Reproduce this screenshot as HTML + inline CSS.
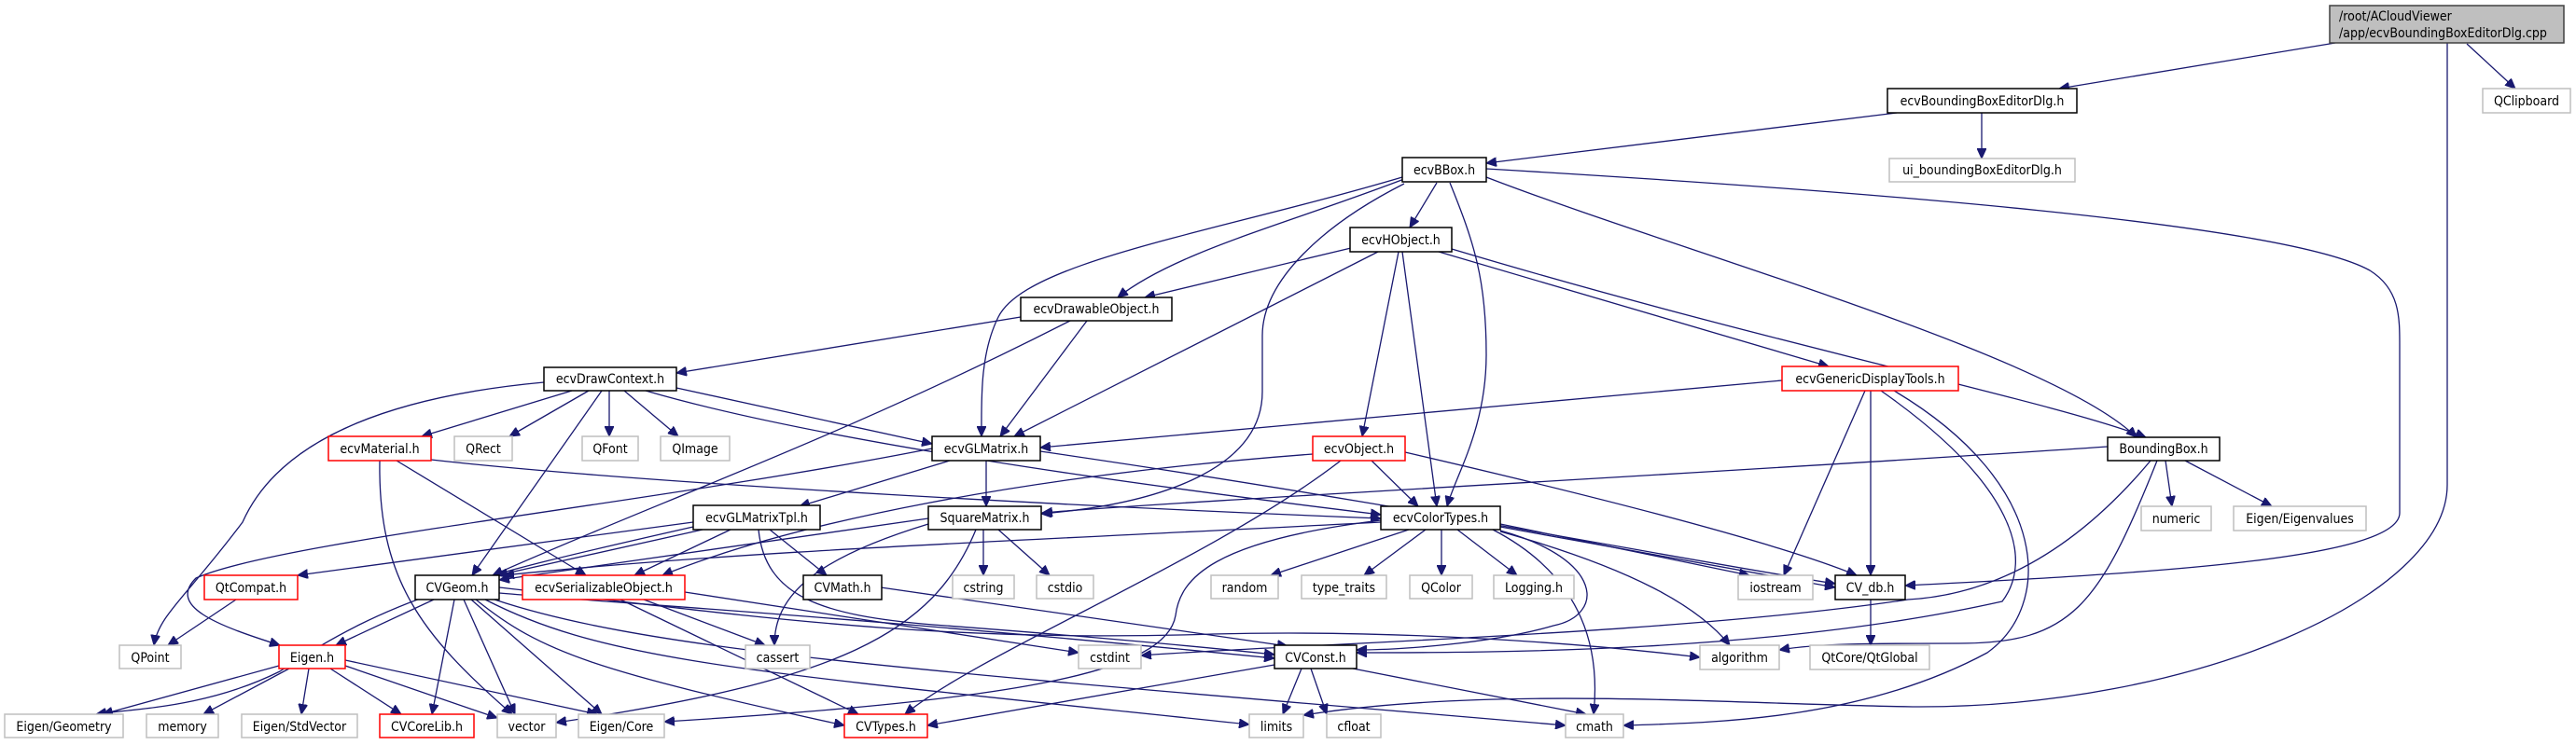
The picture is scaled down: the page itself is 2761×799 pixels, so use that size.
<!DOCTYPE html>
<html><head><meta charset="utf-8"><style>
html,body{margin:0;padding:0;background:#fff;}
svg{display:block;}
text{font-family:"DejaVu Sans Condensed","DejaVu Sans","Liberation Sans",sans-serif;font-size:14px;fill:#000;}
.e{fill:none;stroke:#191970;stroke-width:1.3;marker-end:url(#a);}
.b{fill:#fff;stroke:#000;stroke-width:1.5;}
.g{fill:#fff;stroke:#bfbfbf;stroke-width:1.5;}
.r{fill:#fff;stroke:#ff0000;stroke-width:1.5;}
</style></head><body>
<svg width="2761" height="799" viewBox="0 0 2761 799" xmlns="http://www.w3.org/2000/svg">
<defs><marker id="a" markerUnits="userSpaceOnUse" markerWidth="12" markerHeight="10" refX="11" refY="5" orient="auto"><path d="M0,0 L11,5 L0,10 Z" fill="#191970" stroke="#191970"/></marker></defs>
<g>
<path class="e" d="M2503,46 L2207,95"/>
<path class="e" d="M2644,47 L2696,95"/>
<path class="e" d="M2623,46 L2623,520 C2623,640 2350,760 2050,758 C1850,755 1600,735 1397,767"/>
<path class="e" d="M2033,121 L1593,175"/>
<path class="e" d="M2124,121 L2124,170"/>
<path class="e" d="M1540,196 L1511,244"/>
<path class="e" d="M1505,192 C1380,240 1260,270 1198,319"/>
<path class="e" d="M1503,190 C1300,250 1100,280 1070,340 C1050,380 1052,430 1052,468"/>
<path class="e" d="M1505,197 C1420,240 1353,300 1353,360 L1353,420 C1353,500 1250,540 1116,551"/>
<path class="e" d="M1554,196 C1580,260 1593,300 1593,380 C1593,460 1560,510 1551,543"/>
<path class="e" d="M1593,190 C1800,270 2200,380 2290,469"/>
<path class="e" d="M1593,181 C2000,205 2450,240 2540,290 C2572,310 2572,340 2572,370 L2572,550 C2572,600 2300,615 2042,628"/>
<path class="e" d="M1448,266 L1227,319"/>
<path class="e" d="M1477,270 L1087,468"/>
<path class="e" d="M1499,270 L1460,468"/>
<path class="e" d="M1503,270 L1540,543"/>
<path class="e" d="M1542,270 L1960,393"/>
<path class="e" d="M1556,267 C1900,370 2200,430 2300,469"/>
<path class="e" d="M1094,340 L725,400"/>
<path class="e" d="M1165,344 L1072,468"/>
<path class="e" d="M1147,344 C900,470 700,540 528,617"/>
<path class="e" d="M583,410 C420,425 300,470 260,560 C200,640 170,660 165,692"/>
<path class="e" d="M613,419 L452,468"/>
<path class="e" d="M631,419 L546,468"/>
<path class="e" d="M653,419 L653,468"/>
<path class="e" d="M669,419 L727,468"/>
<path class="e" d="M645,419 L506,617"/>
<path class="e" d="M725,416 L999,476"/>
<path class="e" d="M692,419 C900,480 1300,530 1480,552"/>
<path class="e" d="M1910,408 L1115,480"/>
<path class="e" d="M1999,419 L1912,617"/>
<path class="e" d="M2005,419 L2005,617"/>
<path class="e" d="M2016,419 C2160,520 2180,600 2146,645 C1900,700 1600,700 1454,700"/>
<path class="e" d="M2030,419 C2200,520 2200,650 2130,700 C2000,770 1850,775 1740,778"/>
<path class="e" d="M2305,494 C2200,620 2100,640 2045,643 C1800,680 1400,690 1223,703"/>
<path class="e" d="M2312,494 C2250,650 2220,690 2100,690 C2000,690 1950,690 1907,697"/>
<path class="e" d="M2321,494 L2328,543"/>
<path class="e" d="M2342,494 L2435,543"/>
<path class="e" d="M2259,479 C1800,510 1300,535 1117,550"/>
<path class="e" d="M462,493 C700,520 1200,545 1480,556"/>
<path class="e" d="M425,494 L628,617"/>
<path class="e" d="M407,494 C405,620 450,680 549,766"/>
<path class="e" d="M1018,494 L857,543"/>
<path class="e" d="M1057,494 L1057,543"/>
<path class="e" d="M1115,484 C1500,540 1800,600 1967,626"/>
<path class="e" d="M999,481 C700,540 300,580 210,620 C180,650 230,670 300,692"/>
<path class="e" d="M1470,494 L1520,543"/>
<path class="e" d="M1506,485 C1700,530 1900,580 1990,617"/>
<path class="e" d="M1437,494 C1300,600 1050,700 970,766"/>
<path class="e" d="M1407,487 C1100,510 850,560 710,617"/>
<path class="e" d="M743,560 L319,617"/>
<path class="e" d="M753,568 L533,617"/>
<path class="e" d="M783,568 L680,617"/>
<path class="e" d="M825,568 L886,617"/>
<path class="e" d="M743,565 C500,620 420,640 300,720 C220,760 140,760 103,766"/>
<path class="e" d="M813,568 C820,640 880,660 1000,670 C1200,685 1300,695 1366,702"/>
<path class="e" d="M995,556 L535,622"/>
<path class="e" d="M1054,568 L1054,617"/>
<path class="e" d="M1070,568 L1125,617"/>
<path class="e" d="M995,562 C870,600 830,640 830,692"/>
<path class="e" d="M1046,568 C1000,680 900,730 596,775"/>
<path class="e" d="M1510,568 L1362,617"/>
<path class="e" d="M1528,568 L1462,617"/>
<path class="e" d="M1545,568 L1545,617"/>
<path class="e" d="M1562,568 L1626,617"/>
<path class="e" d="M1608,562 L1875,617"/>
<path class="e" d="M1608,565 L1967,630"/>
<path class="e" d="M1608,570 C1750,610 1820,650 1854,692"/>
<path class="e" d="M1600,568 C1700,620 1715,700 1708,766"/>
<path class="e" d="M1608,569 C1720,600 1720,660 1665,671 C1600,690 1500,697 1454,697"/>
<path class="e" d="M1480,558 C1300,580 1265,620 1260,660 C1250,720 1100,750 712,774"/>
<path class="e" d="M1480,560 C1100,580 800,590 540,617"/>
<path class="e" d="M465,643 L360,692"/>
<path class="e" d="M487,643 L463,766"/>
<path class="e" d="M497,643 L552,766"/>
<path class="e" d="M505,643 L645,766"/>
<path class="e" d="M510,643 C580,700 640,720 905,778"/>
<path class="e" d="M520,643 C650,710 800,720 1339,777"/>
<path class="e" d="M530,643 C700,700 1000,720 1678,778"/>
<path class="e" d="M535,636 C700,650 900,660 1366,706"/>
<path class="e" d="M535,630 C800,660 1000,690 1300,680 C1500,675 1700,690 1822,705"/>
<path class="e" d="M690,643 L820,692"/>
<path class="e" d="M665,643 L920,766"/>
<path class="e" d="M734,635 L1156,700"/>
<path class="e" d="M944,630 L1380,693"/>
<path class="e" d="M253,643 L180,692"/>
<path class="e" d="M299,714 L110,766"/>
<path class="e" d="M310,717 L218,766"/>
<path class="e" d="M331,717 L323,766"/>
<path class="e" d="M354,717 L430,766"/>
<path class="e" d="M370,714 L533,770"/>
<path class="e" d="M370,708 L640,766"/>
<path class="e" d="M1366,713 L994,778"/>
<path class="e" d="M1395,717 L1375,766"/>
<path class="e" d="M1405,717 L1422,766"/>
<path class="e" d="M1450,717 L1700,766"/>
<path class="e" d="M2005,643 L2005,692"/>
</g>
<g>
<rect x="2497" y="6" width="251" height="40" fill="#bfbfbf" stroke="#404040" stroke-width="1.5"/>
<text x="2507" y="22">/root/ACloudViewer</text>
<text x="2507" y="40">/app/ecvBoundingBoxEditorDlg.cpp</text>

<rect class="b" x="2023" y="95" width="203" height="26"/><text x="2124.5" y="113" text-anchor="middle">ecvBoundingBoxEditorDlg.h</text>
<rect class="g" x="2661" y="95" width="94" height="26"/><text x="2708" y="113" text-anchor="middle">QClipboard</text>
<rect class="g" x="2025" y="170" width="199" height="25"/><text x="2124.5" y="187" text-anchor="middle">ui_boundingBoxEditorDlg.h</text>
<rect class="b" x="1503" y="169" width="90" height="26"/><text x="1548" y="187" text-anchor="middle">ecvBBox.h</text>
<rect class="b" x="1447" y="244" width="109" height="26"/><text x="1501.5" y="262" text-anchor="middle">ecvHObject.h</text>
<rect class="b" x="1094" y="319" width="162" height="25"/><text x="1175" y="336" text-anchor="middle">ecvDrawableObject.h</text>
<rect class="b" x="583" y="394" width="142" height="25"/><text x="654" y="411" text-anchor="middle">ecvDrawContext.h</text>
<rect class="r" x="1910" y="393" width="189" height="26"/><text x="2004.5" y="411" text-anchor="middle">ecvGenericDisplayTools.h</text>

<rect class="r" x="352" y="468" width="110" height="26"/><text x="407" y="486" text-anchor="middle">ecvMaterial.h</text>
<rect class="g" x="487" y="468" width="62" height="26"/><text x="518" y="486" text-anchor="middle">QRect</text>
<rect class="g" x="624" y="468" width="60" height="26"/><text x="654" y="486" text-anchor="middle">QFont</text>
<rect class="g" x="708" y="468" width="74" height="26"/><text x="745" y="486" text-anchor="middle">QImage</text>
<rect class="b" x="999" y="468" width="116" height="26"/><text x="1057" y="486" text-anchor="middle">ecvGLMatrix.h</text>
<rect class="r" x="1407" y="468" width="99" height="26"/><text x="1456.5" y="486" text-anchor="middle">ecvObject.h</text>
<rect class="b" x="2259" y="469" width="120" height="25"/><text x="2319" y="486" text-anchor="middle">BoundingBox.h</text>

<rect class="g" x="2295" y="543" width="75" height="26"/><text x="2332.5" y="561" text-anchor="middle">numeric</text>
<rect class="g" x="2394" y="543" width="142" height="26"/><text x="2465" y="561" text-anchor="middle">Eigen/Eigenvalues</text>
<rect class="b" x="743" y="542" width="136" height="26"/><text x="811" y="560" text-anchor="middle">ecvGLMatrixTpl.h</text>
<rect class="b" x="995" y="543" width="121" height="25"/><text x="1055.5" y="560" text-anchor="middle">SquareMatrix.h</text>
<rect class="b" x="1480" y="543" width="128" height="25"/><text x="1544" y="560" text-anchor="middle">ecvColorTypes.h</text>

<rect class="r" x="219" y="617" width="100" height="26"/><text x="269" y="635" text-anchor="middle">QtCompat.h</text>
<rect class="b" x="445" y="617" width="90" height="26"/><text x="490" y="635" text-anchor="middle">CVGeom.h</text>
<rect class="r" x="560" y="617" width="174" height="26"/><text x="647" y="635" text-anchor="middle">ecvSerializableObject.h</text>
<rect class="b" x="861" y="617" width="84" height="26"/><text x="903" y="635" text-anchor="middle">CVMath.h</text>
<rect class="g" x="1021" y="617" width="66" height="25"/><text x="1054" y="635" text-anchor="middle">cstring</text>
<rect class="g" x="1111" y="617" width="61" height="25"/><text x="1141.5" y="635" text-anchor="middle">cstdio</text>
<rect class="g" x="1298" y="617" width="72" height="25"/><text x="1334" y="635" text-anchor="middle">random</text>
<rect class="g" x="1395" y="617" width="91" height="25"/><text x="1440.5" y="635" text-anchor="middle">type_traits</text>
<rect class="g" x="1511" y="617" width="67" height="25"/><text x="1544.5" y="635" text-anchor="middle">QColor</text>
<rect class="g" x="1601" y="617" width="86" height="25"/><text x="1644" y="635" text-anchor="middle">Logging.h</text>
<rect class="g" x="1863" y="617" width="80" height="26"/><text x="1903" y="635" text-anchor="middle">iostream</text>
<rect class="b" x="1967" y="617" width="75" height="26"/><text x="2004.5" y="635" text-anchor="middle">CV_db.h</text>

<rect class="g" x="128" y="692" width="66" height="25"/><text x="161" y="710" text-anchor="middle">QPoint</text>
<rect class="r" x="299" y="692" width="71" height="25"/><text x="334.5" y="710" text-anchor="middle">Eigen.h</text>
<rect class="g" x="799" y="692" width="69" height="25"/><text x="833.5" y="710" text-anchor="middle">cassert</text>
<rect class="g" x="1156" y="692" width="67" height="25"/><text x="1189.5" y="710" text-anchor="middle">cstdint</text>
<rect class="b" x="1366" y="692" width="88" height="25"/><text x="1410" y="710" text-anchor="middle">CVConst.h</text>
<rect class="g" x="1822" y="692" width="85" height="26"/><text x="1864.5" y="710" text-anchor="middle">algorithm</text>
<rect class="g" x="1940" y="692" width="128" height="26"/><text x="2004" y="710" text-anchor="middle">QtCore/QtGlobal</text>

<rect class="g" x="5" y="766" width="127" height="25"/><text x="68.5" y="784" text-anchor="middle">Eigen/Geometry</text>
<rect class="g" x="157" y="766" width="77" height="25"/><text x="195.5" y="784" text-anchor="middle">memory</text>
<rect class="g" x="259" y="766" width="124" height="25"/><text x="321" y="784" text-anchor="middle">Eigen/StdVector</text>
<rect class="r" x="407" y="766" width="101" height="25"/><text x="457.5" y="784" text-anchor="middle">CVCoreLib.h</text>
<rect class="g" x="533" y="766" width="63" height="25"/><text x="564.5" y="784" text-anchor="middle">vector</text>
<rect class="g" x="620" y="766" width="92" height="25"/><text x="666" y="784" text-anchor="middle">Eigen/Core</text>
<rect class="r" x="905" y="766" width="89" height="25"/><text x="949.5" y="784" text-anchor="middle">CVTypes.h</text>
<rect class="g" x="1339" y="766" width="58" height="25"/><text x="1368" y="784" text-anchor="middle">limits</text>
<rect class="g" x="1422" y="766" width="58" height="25"/><text x="1451" y="784" text-anchor="middle">cfloat</text>
<rect class="g" x="1678" y="766" width="62" height="25"/><text x="1709" y="784" text-anchor="middle">cmath</text>
</g>
</svg>
</body></html>
